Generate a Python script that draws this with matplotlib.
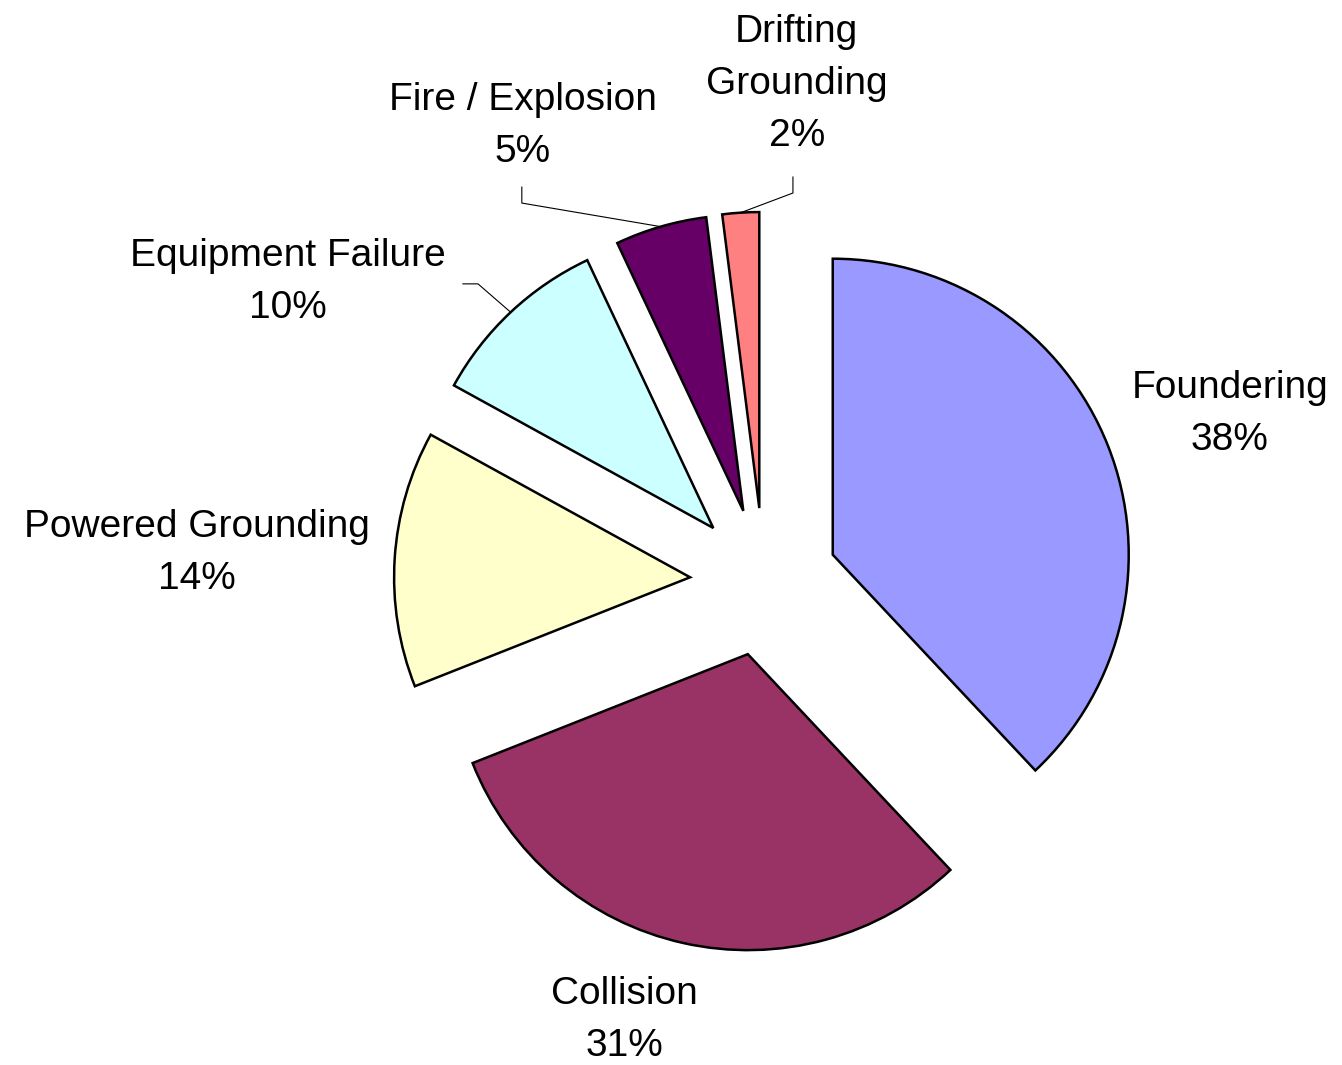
import numpy as np
import matplotlib.pyplot as plt

# Accident causes (share of total, %)
labels = ['Foundering', 'Collision', 'Powered Grounding', 'Equipment Failure',
          'Fire / Explosion', 'Drifting\nGrounding']
shares = [38, 31, 14, 10, 5, 2]
colors = ['#9999FF', '#993366', '#FFFFCC', '#CCFFFF', '#660066', '#FF8080']

# label centres in data units (pie radius = 1)
label_pos = [(1.574, 0.567), (-0.470, -1.480), (-1.916, 0.098),
             (-1.608, 1.014), (-0.814, 1.541), (0.111, 1.682)]

# leader lines: elbow and end point near the label (None = no leader)
leaders = [None, None, None,
           [(-0.966, 1.007), (-1.017, 1.007)],
           [(-0.818, 1.280), (-0.818, 1.334)],
           [(0.098, 1.314), (0.098, 1.368)]]

plt.rcParams['font.family'] = ['Liberation Sans', 'DejaVu Sans']

fig = plt.figure(figsize=(13.42, 10.65), dpi=100)
ax = fig.add_axes([0, 0, 1, 1])

wedges, _ = ax.pie(shares, colors=colors, startangle=90, counterclock=False,
                   explode=[0.25] * len(shares),
                   wedgeprops=dict(edgecolor='black', linewidth=1.8))
ax.set_xlim(-2.581, 1.953)
ax.set_ylim(-1.632, 1.966)
ax.set_aspect('equal')
ax.axis('off')

for w, lab, sh, pos, ld in zip(wedges, labels, shares, label_pos, leaders):
    ax.text(pos[0], pos[1], f'{lab}\n{sh}%', ha='center', va='center',
            fontsize=28, linespacing=1.56)
    if ld is not None:
        mid = np.deg2rad((w.theta1 + w.theta2) / 2)
        px = w.center[0] + w.r * np.cos(mid)
        py = w.center[1] + w.r * np.sin(mid)
        xs = [px] + [p[0] for p in ld]
        ys = [py] + [p[1] for p in ld]
        ax.plot(xs, ys, color='black', lw=0.8, zorder=0)

fig.savefig('out.png', dpi=100, facecolor='white')
